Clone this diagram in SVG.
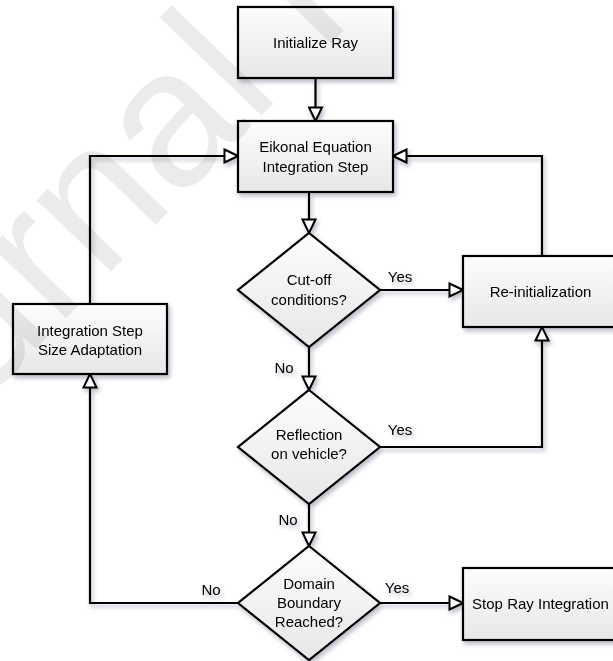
<svg xmlns="http://www.w3.org/2000/svg" width="613" height="661" viewBox="0 0 613 661">
<defs>
  <linearGradient id="g" x1="0" y1="0" x2="0" y2="1">
    <stop offset="0" stop-color="#fdfdfd"/>
    <stop offset="1" stop-color="#e7e7e7"/>
  </linearGradient>
  <filter id="sh" x="-10%" y="-10%" width="130%" height="130%">
    <feDropShadow dx="2" dy="3" stdDeviation="2" flood-color="#1a1a40" flood-opacity="0.3"/>
  </filter>
  <marker id="ah" viewBox="0 0 16 16" refX="15" refY="8" markerWidth="16" markerHeight="16" markerUnits="userSpaceOnUse" orient="auto">
    <path d="M1.5,1.5 L15,8 L1.5,14.5 Z" fill="#fff" stroke="#000" stroke-width="2" stroke-linejoin="miter"/>
  </marker>
  <style>
    .n{fill:url(#g);stroke:#000;stroke-width:2.2}
    .t{font-family:"Liberation Sans",Arial,sans-serif;font-size:15px;fill:#000;text-anchor:middle}
    .l{font-family:"Liberation Sans",Arial,sans-serif;font-size:15px;fill:#000;text-anchor:middle}
    .c{fill:none;stroke:#000;stroke-width:2.2;marker-end:url(#ah)}
  </style>
</defs>
<rect width="613" height="661" fill="#fff"/>
<g filter="url(#sh)">
<g id="connectors">
  <path class="c" d="M315.5,78 V121"/>
  <path class="c" d="M309,192 V233"/>
  <path class="c" d="M380,290 H463"/>
  <path class="c" d="M309,347 V390"/>
  <path class="c" d="M380,447 H542 V327"/>
  <path class="c" d="M309,504 V546"/>
  <path class="c" d="M380,603 H463"/>
  <path class="c" d="M238,603 H90 V374"/>
  <path class="c" d="M90,304 V156 H238"/>
  <path class="c" d="M542,256 V156 H393"/>
  <text class="l" x="400" y="282">Yes</text>
  <text class="l" x="284" y="373">No</text>
  <text class="l" x="400" y="435">Yes</text>
  <text class="l" x="288" y="525">No</text>
  <text class="l" x="397" y="593">Yes</text>
  <text class="l" x="211" y="595">No</text>
</g>
<g id="init">
  <rect class="n" x="238" y="7" width="155" height="71"/>
  <text class="t" x="315.5" y="48">Initialize Ray</text>
</g>
<g id="eikonal">
  <rect class="n" x="238" y="121" width="155" height="71"/>
  <text class="t" x="315.5" y="152">Eikonal Equation</text>
  <text class="t" x="315.5" y="172">Integration Step</text>
</g>
<g id="cutoff">
  <polygon class="n" points="309,233 380,290 309,347 238,290"/>
  <text class="t" x="309" y="285">Cut-off</text>
  <text class="t" x="309" y="305">conditions?</text>
</g>
<g id="reinit">
  <rect class="n" x="463" y="256" width="155" height="71"/>
  <text class="t" x="540.5" y="297">Re-initialization</text>
</g>
<g id="reflection">
  <polygon class="n" points="309,390 380,447 309,504 238,447"/>
  <text class="t" x="309" y="440">Reflection</text>
  <text class="t" x="309" y="459">on vehicle?</text>
</g>
<g id="adapt">
  <rect class="n" x="13" y="304" width="154" height="70"/>
  <text class="t" x="90" y="336">Integration Step</text>
  <text class="t" x="90" y="355">Size Adaptation</text>
</g>
<g id="domain">
  <polygon class="n" points="309,546 380,603 309,660 238,603"/>
  <text class="t" x="309" y="589">Domain</text>
  <text class="t" x="309" y="608">Boundary</text>
  <text class="t" x="309" y="627">Reached?</text>
</g>
<g id="stop">
  <rect class="n" x="463" y="568" width="155" height="72"/>
  <text class="t" x="540.5" y="609">Stop Ray Integration</text>
</g>
</g>
<text transform="translate(-162,554) rotate(-46)" font-family="Liberation Sans,Arial,sans-serif" font-size="195" fill="#000" fill-opacity="0.08">Journal Pre-proof</text>
</svg>
